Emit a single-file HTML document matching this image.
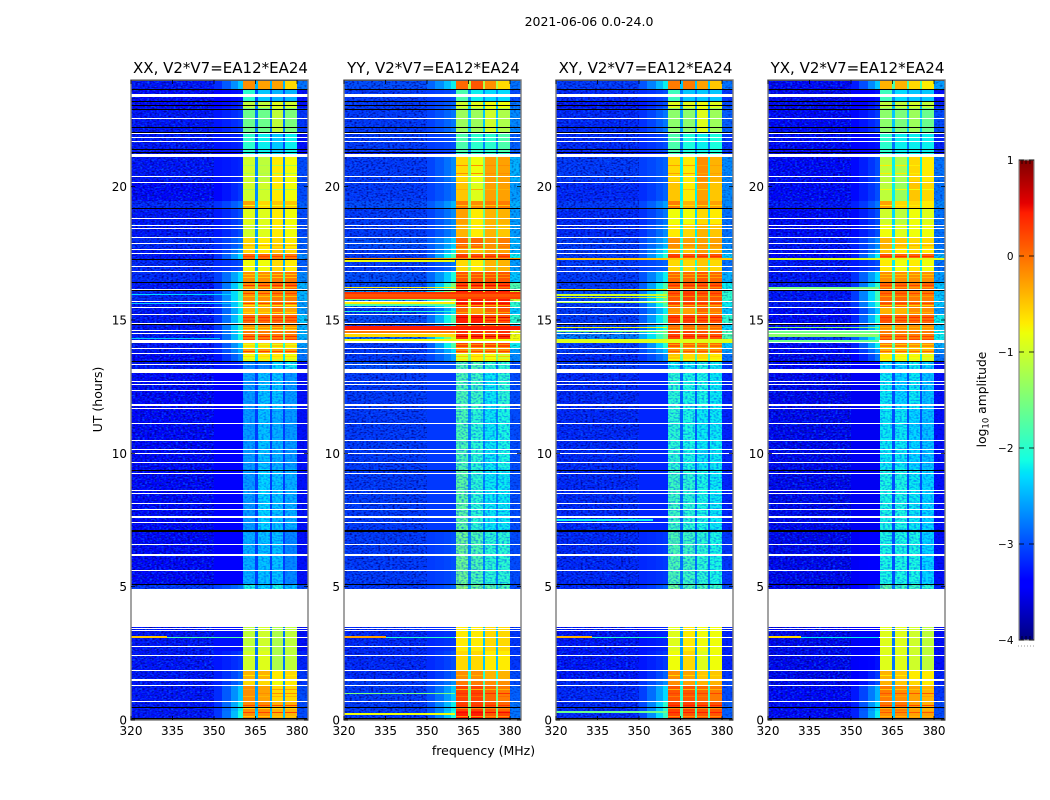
<!DOCTYPE html>
<html>
<head>
<meta charset="utf-8">
<title>2021-06-06 0.0-24.0</title>
<style>
html,body{margin:0;padding:0;background:#fff;}
svg{display:block;}
text{font-family:"DejaVu Sans","Liberation Sans",sans-serif;fill:#000;}
</style>
</head>
<body>
<svg id="chart" width="1050" height="800" viewBox="0 0 1050 800" xmlns="http://www.w3.org/2000/svg">
  <defs>
    <filter id="speckle-light" x="0" y="0" width="100%" height="100%" color-interpolation-filters="sRGB">
      <feTurbulence type="fractalNoise" baseFrequency="0.42 0.62" numOctaves="1" seed="4"/>
      <feColorMatrix type="matrix" values="0 0 0 0 0  0 0 0 0 .38  0 0 0 0 1  2.6 0 0 0 -1.2"/>
    </filter>
    <filter id="speckle-dark" x="0" y="0" width="100%" height="100%" color-interpolation-filters="sRGB">
      <feTurbulence type="fractalNoise" baseFrequency="0.42 0.62" numOctaves="1" seed="11"/>
      <feColorMatrix type="matrix" values="0 0 0 0 0  0 0 0 0 0  0 0 0 0 .5  2.6 0 0 0 -1.2"/>
    </filter>
    <filter id="speckle-band" x="0" y="0" width="100%" height="100%" color-interpolation-filters="sRGB">
      <feTurbulence type="fractalNoise" baseFrequency="0.42 0.62" numOctaves="1" seed="23"/>
      <feColorMatrix type="matrix" values="0 0 0 0 0  0 0 0 0 .3  0 0 0 0 1  1.8 0 0 0 -0.75"/>
    </filter>
    <linearGradient id="jet-gradient" x1="0" y1="1" x2="0" y2="0">
      <stop offset="0" stop-color="rgb(0,0,127)"/>
      <stop offset="0.11" stop-color="rgb(0,0,255)"/>
      <stop offset="0.125" stop-color="rgb(0,0,255)"/>
      <stop offset="0.34" stop-color="rgb(0,219,255)"/>
      <stop offset="0.35" stop-color="rgb(0,229,247)"/>
      <stop offset="0.375" stop-color="rgb(20,255,226)"/>
      <stop offset="0.64" stop-color="rgb(238,255,8)"/>
      <stop offset="0.66" stop-color="rgb(255,236,0)"/>
      <stop offset="0.89" stop-color="rgb(255,29,0)"/>
      <stop offset="0.91" stop-color="rgb(228,0,0)"/>
      <stop offset="1" stop-color="rgb(127,0,0)"/>
    </linearGradient>
  </defs>

  <text x="589" y="26" font-size="12.5" text-anchor="middle">2021-06-06 0.0-24.0</text>
  <text x="483.5" y="755" font-size="12.5" text-anchor="middle">frequency (MHz)</text>
  <text x="0" y="0" font-size="12.5" text-anchor="middle" transform="translate(102,399.5) rotate(-90)">UT (hours)</text>

  <g id="panels"></g>

  <g id="colorbar">
    <rect x="1019" y="160" width="15" height="480" fill="url(#jet-gradient)" stroke="#8a8a8a" stroke-width="1.2"/>
    <text x="0" y="0" font-size="12.3" text-anchor="middle" transform="translate(986,399.5) rotate(-90)">log<tspan font-size="8.5" dy="2.5">10</tspan><tspan dy="-2.5"> amplitude</tspan></text>
    <line x1="1018" y1="646" x2="1035" y2="646" stroke="#999" stroke-width="1" stroke-dasharray="1 2"/>
  </g>

<script>
// Frequency bin edges in MHz
const freqEdges = [320, 350, 353, 356, 358.5, 360.5, 364.8, 365.8, 370.2, 370.9, 375.1, 375.8, 380, 384];
// UT hour at the top of each row of the tables below
const rowTopHours = [24,23.65,23.19,22.95,22.05,21.29,21.1,20.2,19.45,19.19,18.6,18.1,17.7,17.5,17.27,16.8,16.41,16.09,15.7,15.48,15.21,14.88,14.6,14.19,13.92,13.75,13.47,13,11.7,9.4,7.1,5.09,4.92,3.5,2.6,1.85,1.46,1.3,0.7,0.35];
// Tick labels
const xTickMHz = [320, 335, 350, 365, 380];
const yTickHours = [0, 5, 10, 15, 20];
const colorbarTicks = [1, 0, -1, -2, -3, -4];
const panelTitles = ['XX, V2*V7=EA12*EA24', 'YY, V2*V7=EA12*EA24', 'XY, V2*V7=EA12*EA24', 'YX, V2*V7=EA12*EA24'];

// Levels: tenths of log10 amplitude. Columns: background, ramp, band1, band2, band3, band4, out-of-band, band-gap
const levelsXX = [
[-33,-24,-2,-3,-3,-6,-28,-25],[-34,-33,-20,-24,-25,-25,-33,-30],[-34,-32,-11,-11,-9,-10,-33,-28],[-33,-31,-16,-16,-11,-15,-31,-28],
[-33,-32,-20,-22,-24,-22,-33,-30],[-36,-33,-22,-22,-23,-22,-33,-30],[-33,-32,-10,-11,-7,-8,-30,-27],[-34,-31,-10,-10,-7,-8,-30,-27],
[-32,-28,-3,-6,-5,-5,-29,-24],[-33,-30,-9,-9,-7,-8,-30,-27],[-33,-30,-10,-9,-7,-8,-30,-26],[-32,-28,-6,-7,-6,-7,-29,-25],
[-33,-26,-6,-7,-5,-6,-29,-24],[-33,-23,0,0,-1,-1,-27,-22],[-32,-30,-8,-8,-6,-7,-29,-25],[-32,-23,-2,-2,-1,-1,-27,-18],
[-33,-20,-2,-1,0,0,-25,-15],[-32,-19,-2,-2,-1,-1,-25,-18],[-33,-20,-3,-3,-1,-3,-26,-18],[-33,-22,-4,-4,-1,-3,-26,-18],
[-33,-21,0,0,0,0,-24,-15],[-33,-20,-2,-2,-1,-2,-25,-17],[-33,-21,-1,-1,-1,-1,-25,-16],[-33,-24,-6,-6,-5,-6,-26,-20],
[-33,-25,-3,-3,-3,-3,-27,-20],[-34,-27,-8,-7,-7,-8,-28,-22],[-33,-32,-27,-27,-23,-22,-33,-30],[-34,-34,-26,-24,-24,-26,-33,-31],
[-34,-34,-26,-24,-25,-26,-33,-31],[-34,-34,-26,-23,-24,-25,-33,-31],[-34,-34,-25,-24,-24,-27,-33,-31],[-31,-28,-21,-23,-21,-24,-30,-28],
[-31,-28,-21,-23,-21,-24,-30,-28],[-33,-33,-11,-10,-12,-11,-33,-28],[-33,-31,-10,-9,-12,-11,-32,-28],[-33,-29,-4,-4,-7,-6,-31,-26],
[-33,-28,-6,-6,-8,-7,-31,-26],[-33,-24,-2,-3,-6,-6,-30,-26],[-33,-22,-2,-2,-4,-4,-30,-25],[-33,-21,-2,-2,-4,-4,-30,-24]
];
const levelsYY = [
[-30,-22,0,1,-2,-6,-28,-12],[-31,-30,-18,-22,-23,-23,-30,-27],[-31,-29,-10,-9,-8,-8,-28,-24],[-31,-28,-13,-13,-10,-12,-27,-24],
[-31,-30,-18,-20,-20,-18,-29,-27],[-33,-31,-20,-20,-20,-20,-30,-28],[-31,-27,-6,-8,-3,-3,-25,-15],[-31,-28,-5,-9,-3,-3,-26,-16],
[-30,-25,-1,-2,-1,-1,-25,-15],[-31,-27,-3,-7,-4,-4,-26,-16],[-31,-27,-4,-7,-4,-5,-26,-16],[-30,-24,0,0,-2,-1,-25,-14],
[-31,-22,-3,-5,-3,-3,-25,-13],[-31,-18,2,1,1,1,-22,-12],[-31,-28,-6,-7,-4,-4,-26,-15],[-30,-21,1,1,1,1,-24,-14],
[-30,-15,2,2,2,2,-18,-12],[-26,-10,4,4,3,4,-10,-10],[-28,-16,3,3,2,3,-20,-10],[-31,-23,0,-3,0,1,-24,-11],
[-30,-18,4,4,1,1,-20,-10],[-31,-20,1,1,0,0,-24,-12],[-28,-10,3,3,2,3,-8,-8],[-31,-18,2,2,2,2,-22,-12],
[-31,-23,-2,-2,-2,-2,-26,-14],[-31,-26,-9,-7,-8,-10,-27,-15],[-30,-30,-18,-18,-20,-20,-30,-28],[-31,-31,-18,-19,-22,-20,-30,-26],
[-31,-31,-18,-20,-22,-21,-30,-27],[-31,-31,-17,-20,-22,-22,-30,-27],[-31,-30,-16,-18,-20,-20,-30,-27],[-31,-29,-14,-16,-17,-18,-30,-25],
[-31,-29,-14,-16,-17,-18,-30,-25],[-32,-31,-7,-7,-6,-6,-31,-24],[-32,-30,-6,-6,-7,-7,-31,-24],[-32,-29,-2,-2,-4,-4,-30,-20],
[-31,-27,-1,-1,-2,-2,-30,-18],[-31,-24,2,2,0,-1,-29,-16],[-31,-22,2,2,1,0,-28,-15],[-31,-21,4,4,1,2,-28,-14]
];
const levelsXY = [
[-31,-22,-1,-1,-3,-5,-28,-24],[-32,-30,-19,-24,-24,-24,-31,-28],[-33,-30,-9,-9,-8,-9,-30,-26],[-32,-28,-14,-14,-9,-13,-29,-26],
[-32,-30,-18,-21,-22,-21,-31,-28],[-33,-32,-19,-20,-20,-20,-31,-28],[-31,-29,-6,-7,-2,-4,-27,-22],[-32,-29,-5,-7,-3,-5,-27,-22],
[-31,-26,-1,-4,-2,-3,-27,-20],[-32,-28,-8,-8,-6,-7,-28,-23],[-32,-27,-7,-6,-4,-5,-28,-22],[-31,-25,-2,-3,-3,-3,-27,-20],
[-31,-22,-4,-5,-3,-4,-26,-20],[-31,-20,2,1,1,1,-24,-18],[-31,-29,-6,-6,-5,-6,-28,-20],[-31,-22,0,0,1,0,-25,-16],
[-31,-18,1,1,1,1,-22,-14],[-30,-16,1,2,1,1,-20,-15],[-31,-18,1,1,1,0,-22,-15],[-31,-22,-2,-3,0,-1,-24,-15],
[-31,-19,2,2,1,1,-20,-12],[-31,-20,0,0,0,0,-23,-15],[-27,-16,2,2,1,1,-18,-12],[-31,-20,1,0,0,0,-24,-14],
[-31,-24,-2,-2,-2,-2,-26,-15],[-32,-27,-5,-6,-6,-7,-28,-18],[-31,-31,-22,-22,-21,-22,-31,-29],[-32,-32,-20,-21,-21,-22,-32,-29],
[-32,-32,-20,-21,-22,-22,-32,-29],[-32,-32,-19,-20,-21,-22,-32,-29],[-32,-31,-18,-19,-20,-21,-31,-28],[-32,-29,-16,-18,-18,-19,-30,-27],
[-32,-29,-16,-18,-18,-19,-30,-27],[-33,-32,-9,-7,-8,-8,-32,-26],[-33,-31,-8,-6,-9,-8,-32,-26],[-33,-29,-2,-3,-5,-5,-31,-24],
[-32,-27,-2,-3,-4,-4,-30,-22],[-32,-23,1,1,0,-1,-30,-20],[-32,-20,2,2,1,1,-29,-18],[-32,-19,2,1,1,1,-29,-18]
];
const levelsYX = [
[-34,-24,-4,-4,-6,-7,-26,-18],[-35,-33,-19,-23,-24,-24,-33,-27],[-35,-32,-11,-11,-10,-11,-32,-25],[-34,-31,-14,-15,-13,-16,-30,-24],
[-34,-33,-20,-22,-22,-22,-32,-28],[-36,-33,-21,-22,-22,-22,-33,-28],[-34,-30,-11,-12,-6,-7,-28,-22],[-34,-30,-11,-13,-5,-6,-28,-22],
[-33,-28,-3,-6,-6,-7,-27,-20],[-34,-30,-10,-11,-8,-9,-28,-23],[-34,-30,-8,-9,-8,-8,-28,-23],[-33,-27,-4,-5,-6,-6,-28,-21],
[-34,-26,-5,-7,-6,-7,-27,-21],[-34,-22,1,0,0,0,-25,-18],[-33,-30,-7,-8,-7,-8,-28,-22],[-33,-23,-2,-2,-2,-2,-26,-18],
[-33,-20,0,0,-1,0,-24,-16],[-33,-19,0,0,-1,-1,-24,-16],[-33,-20,0,0,-1,-1,-24,-17],[-34,-24,-4,-4,-2,-2,-26,-17],
[-34,-21,1,0,0,0,-22,-15],[-34,-22,-2,-2,-2,-2,-24,-18],[-31,-20,-1,-1,-1,-1,-22,-15],[-34,-22,-1,-1,-2,-2,-25,-17],
[-34,-26,-4,-4,-4,-4,-27,-19],[-35,-28,-7,-8,-8,-9,-28,-22],[-34,-34,-23,-23,-22,-23,-33,-30],[-35,-35,-22,-23,-22,-24,-33,-30],
[-35,-35,-22,-22,-23,-24,-33,-30],[-35,-35,-21,-21,-22,-23,-33,-30],[-35,-34,-21,-21,-21,-23,-33,-30],[-35,-31,-17,-19,-19,-20,-32,-28],
[-35,-31,-17,-19,-19,-20,-32,-28],[-35,-34,-9,-9,-10,-11,-33,-28],[-35,-33,-9,-9,-10,-11,-33,-28],[-35,-31,-4,-5,-7,-7,-32,-26],
[-35,-30,-4,-5,-6,-7,-32,-26],[-34,-25,-1,-2,-3,-4,-31,-24],[-34,-23,-1,-1,-3,-4,-30,-24],[-34,-22,-2,-2,-3,-3,-30,-24]
];

// Thin stripes across the four bands: hours, then level in each product
const stripeHours = [17.4,16.3,16.0,15.65,15.1,15.0,14.4,14.3,13.85,1.0,0.55,0.3,16.72,16.6,16.25,15.9,15.55,15.3,14.75,14.68,14.1,14.0,13.65,13.55,1.7,1.15,0.9,0.45,0.15,19.3,17.8,20.8,20.5,19.9];
const stripesXX = [2,3,2,2,3,2,3,2,2,-2,2,2,-5,-5,-4,-5,-7,-6,-5,-5,-9,-8,-6,-10,-7,-3,-4,-6,-5,-8,-4,-12,-12,-12];
const stripesYY = [3,5,6,5,6,4,6,5,2,3,3,5,-2,-2,-1,-1,-4,-3,-2,-1,-2,-3,-5,-7,-4,-4,0,-2,-2,-5,-2,-2,-2,-4];
const stripesXY = [3,3,3,3,4,3,4,3,1,2,4,4,-3,-3,-2,-2,-4,-3,-2,-2,-3,-4,-6,-8,-6,-4,-1,-2,-2,-6,-2,-3,-3,-5];
const stripesYX = [3,2,2,2,3,2,2,2,0,1,2,1,-5,-4,-3,-3,-6,-4,-4,-3,-5,-6,-7,-9,-7,-5,-3,-4,-4,-7,-4,-7,-7,-8];

// Narrowband interference: hour, duration in hours, end frequency in MHz, level
const rfiXX = [[3.1,0.06,360,-18],[3.12,0.06,333,-5],[14.3,0.06,352,-24],[15.95,0.05,358,-23],[15.62,0.05,358,-24]];
const rfiYY = [[17.31,0.06,384,-2],[17.21,0.05,360,-8],[16.22,0.05,360,-7],[16.0,0.1,384,3],[15.92,0.08,384,1],[15.84,0.07,384,2],[15.77,0.05,360,-13],[15.64,0.05,360,-7],[15.56,0.05,360,-18],[15.32,0.05,360,-20],[14.705,0.13,384,4],[14.535,0.07,360,-1],[14.41,0.1,360,-6],[14.25,0.08,384,-8],[3.1,0.06,360,-20],[3.12,0.06,335,-3],[1.0,0.05,360,-15],[0.22,0.1,360,-8]];
const rfiXY = [[17.28,0.06,384,-5],[16.15,0.05,360,-7],[15.95,0.07,360,-10],[15.85,0.05,360,-9],[15.65,0.05,360,-12],[14.72,0.06,360,-8],[14.56,0.05,360,-14],[14.2,0.14,384,-9],[3.1,0.06,360,-20],[3.12,0.06,333,-4],[7.5,0.05,355,-22],[0.3,0.05,360,-16]];
const rfiYX = [[17.28,0.06,384,-9],[16.2,0.05,360,-15],[14.72,0.06,360,-14],[14.55,0.05,360,-16],[14.42,0.08,360,-14],[14.22,0.08,360,-16],[3.1,0.06,360,-22],[3.12,0.06,332,-6]];

// Flagged times, common to all products
const whiteFlagHours = [22.55,21.99,21.86,20.39,20.16,18.81,18.56,18.44,18.10,17.86,17.64,17.51,17.0,16.81,16.14,15.70,15.48,15.21,14.88,14.60,14.49,13.92,13.75,13.35,12.70,12.59,12.36,11.70,11.13,10.49,10.15,9.99,9.66,9.25,8.59,8.51,8.13,7.90,7.41,6.59,6.21,6.16,5.61,3.44,3.36,3.08,2.76,2.41,1.85,1.30,0.70];
const whiteFlagBlocks = [[23.49,23.36],[21.72,21.66],[21.24,21.11],[14.24,14.14],[13.17,13.0],[11.85,11.78],[7.66,7.58],[4.92,3.5],[1.54,1.46]];
const blackFlagHours = [23.65,23.19,23.06,22.91,22.23,22.05,21.38,21.29,19.19,17.26,16.41,16.09,14.82,13.43,9.36,5.09,0.46];
const blackFlagBlocks = [[24,23.96],[7.14,7.05],[0.08,0]];
// Span of the quiet-band period (UT hours)
const quietSpan = [13.47, 4.92];

const panelLevels = [levelsXX, levelsYY, levelsXY, levelsYX];
const panelStripes = [stripesXX, stripesYY, stripesXY, stripesYX];
const panelRfi = [rfiXX, rfiYY, rfiXY, rfiYX];

// Axis functions and colour map
const NS = 'http://www.w3.org/2000/svg';
const PANEL_LEFT = [131, 344, 556, 768];
const PANEL_W = 177, PANEL_TOP = 80, PANEL_BOTTOM = 720;
const MHZ_PX = 2.767;
function xOf(left, mhz) { return left + (mhz - 320) * MHZ_PX; }
function yOf(hour) { return PANEL_BOTTOM - hour * (PANEL_BOTTOM - PANEL_TOP) / 24; }
function ramp(t, pts) {
  for (let i = 1; i < pts.length; i++) {
    if (t <= pts[i][0]) {
      const a = pts[i - 1], b = pts[i];
      return a[1] + (b[1] - a[1]) * (t - a[0]) / (b[0] - a[0]);
    }
  }
  return pts[pts.length - 1][1];
}
function jet(level) {
  const t = Math.max(0, Math.min(1, (level / 10 + 4) / 5));
  const r = ramp(t, [[0,0],[0.35,0],[0.66,1],[0.89,1],[1,0.5]]);
  const g = ramp(t, [[0,0],[0.125,0],[0.375,1],[0.64,1],[0.91,0],[1,0]]);
  const b = ramp(t, [[0,0.5],[0.11,1],[0.34,1],[0.65,0],[1,0]]);
  return 'rgb(' + Math.round(r * 255) + ',' + Math.round(g * 255) + ',' + Math.round(b * 255) + ')';
}
function makeRect(parent, x0, y0, x1, y1, fill) {
  const el = document.createElementNS(NS, 'rect');
  el.setAttribute('x', x0);
  el.setAttribute('y', y0);
  el.setAttribute('width', Math.max(0, x1 - x0));
  el.setAttribute('height', Math.max(0, y1 - y0));
  el.setAttribute('fill', fill);
  el.setAttribute('shape-rendering', 'crispEdges');
  parent.appendChild(el);
  return el;
}
function makeLine(parent, x1, y1, x2, y2, color, width) {
  const el = document.createElementNS(NS, 'line');
  el.setAttribute('x1', x1);
  el.setAttribute('y1', y1);
  el.setAttribute('x2', x2);
  el.setAttribute('y2', y2);
  el.setAttribute('stroke', color);
  el.setAttribute('stroke-width', width);
  parent.appendChild(el);
  return el;
}
function makeText(parent, x, y, size, anchor, content) {
  const el = document.createElementNS(NS, 'text');
  el.setAttribute('x', x);
  el.setAttribute('y', y);
  el.setAttribute('font-size', size);
  el.setAttribute('text-anchor', anchor);
  el.textContent = content;
  parent.appendChild(el);
  return el;
}

// The first five bins blend background into the ramp level; the rest read a table column
const RAMP_BLEND = [0, 0.15, 0.4, 0.7, 1];
const BAND_COLUMN = [2, 7, 3, 7, 4, 7, 5, 6];
const panelsRoot = document.getElementById('panels');

PANEL_LEFT.forEach(function (left, p) {
  const g = document.createElementNS(NS, 'g');
  
  
  panelsRoot.appendChild(g);
  const right = left + PANEL_W;
  const levels = panelLevels[p];

  // heatmap cells
  rowTopHours.forEach(function (top, r) {
    const bottom = r + 1 < rowTopHours.length ? rowTopHours[r + 1] : 0;
    const y0 = Math.round(yOf(top)), y1 = Math.round(yOf(bottom));
    for (let b = 0; b < freqEdges.length - 1; b++) {
      const v = b < RAMP_BLEND.length
        ? levels[r][0] + (levels[r][1] - levels[r][0]) * RAMP_BLEND[b]
        : levels[r][BAND_COLUMN[b - RAMP_BLEND.length]];
      const x0 = Math.round(xOf(left, freqEdges[b])), x1 = Math.round(xOf(left, freqEdges[b + 1]));
      const cell = makeRect(g, x0, y0, x1, y1, jet(v));
      
      
    }
  });

  // band stripes
  stripeHours.forEach(function (hour, i) {
    const y0 = Math.round(yOf(hour)), y1 = y0 + 1;
    [[5,6],[7,8],[9,10],[11,12]].forEach(function (pair) {
      const s = makeRect(g, Math.round(xOf(left, freqEdges[pair[0]])), y0, Math.round(xOf(left, freqEdges[pair[1]])), y1, jet(panelStripes[p][i]));
      
      
    });
  });

  // receiver-noise speckle, off-band and across quiet bands only
  const speckleEnd = Math.round(xOf(left, freqEdges[1]));
  const bandStart = Math.round(xOf(left, freqEdges[5]));
  const oobStart = Math.round(xOf(left, freqEdges[12]));
  ['speckle-light', 'speckle-dark'].forEach(function (id) {
    const n = makeRect(g, left, PANEL_TOP, speckleEnd, PANEL_BOTTOM, '#000');
    n.setAttribute('filter', 'url(#' + id + ')');
    
    
  });
  const oobNoise = makeRect(g, oobStart, PANEL_TOP, right, PANEL_BOTTOM, '#000');
  oobNoise.setAttribute('filter', 'url(#speckle-dark)');
  oobNoise.setAttribute('opacity', '0.5');
  
  
  const bandNoise = makeRect(g, bandStart, Math.round(yOf(quietSpan[0])), oobStart, Math.round(yOf(quietSpan[1])), '#000');
  bandNoise.setAttribute('filter', 'url(#speckle-band)');
  
  

  // flagged times
  whiteFlagHours.forEach(function (h) {
    const y0 = Math.round(yOf(h) - 0.5);
    const f = makeRect(g, left, y0, right, y0 + 1, '#fff');
    
    
  });
  whiteFlagBlocks.forEach(function (b) {
    const f = makeRect(g, left, Math.round(yOf(b[0])), right, Math.round(yOf(b[1])), '#fff');
    
    
  });
  blackFlagHours.forEach(function (h) {
    const y0 = Math.round(yOf(h) - 0.5);
    const f = makeRect(g, left, y0, right, y0 + 1, '#000');
    
    
  });
  blackFlagBlocks.forEach(function (b) {
    const f = makeRect(g, left, Math.round(yOf(b[0])), right, Math.round(yOf(b[1])), '#000');
    
    
  });

  // narrowband interference
  panelRfi[p].forEach(function (line) {
    const y0 = Math.round(yOf(line[0] + line[1] / 2));
    const y1 = Math.max(y0 + 1, Math.round(yOf(line[0] - line[1] / 2)));
    const f = makeRect(g, left, y0, Math.round(xOf(left, line[2])), y1, jet(line[3]));
    
    
  });

  // frame
  const frame = document.createElementNS(NS, 'rect');
  frame.setAttribute('x', left);
  frame.setAttribute('y', PANEL_TOP);
  frame.setAttribute('width', PANEL_W);
  frame.setAttribute('height', PANEL_BOTTOM - PANEL_TOP);
  frame.setAttribute('fill', 'none');
  frame.setAttribute('stroke', '#7c7c7c');
  frame.setAttribute('stroke-width', '1.4');
  
  
  g.appendChild(frame);

  // x ticks
  xTickMHz.forEach(function (mhz) {
    const x = xOf(left, mhz);
    const t1 = makeLine(g, x, PANEL_BOTTOM, x, PANEL_BOTTOM - 4, '#000', 0.8);
    
    
    const t2 = makeLine(g, x, PANEL_TOP, x, PANEL_TOP + 4, '#000', 0.8);
    
    
    const lab = makeText(g, x, 735, 12, 'middle', String(mhz));
    
    
  });

  // y ticks
  yTickHours.forEach(function (hour) {
    const y = yOf(hour);
    const t1 = makeLine(g, left, y, left + 4, y, '#000', 0.8);
    
    
    const t2 = makeLine(g, right, y, right - 4, y, '#000', 0.8);
    
    
    const lab = makeText(g, left - 4, y + 4.5, 12, 'end', String(hour));
    
    
  });

  // title
  const title = makeText(g, left + PANEL_W / 2 + 1, 73, 15, 'middle', panelTitles[p]);
  
  
});

// colour bar ticks
const cbarRoot = document.getElementById('colorbar');
function cbarY(v) { return 640 - (v + 4) * 96; }
colorbarTicks.forEach(function (v) {
  const y = cbarY(v);
  const lab = makeText(cbarRoot, 1013.5, y + 4, 10.5, 'end', v < 0 ? '\u2212' + Math.abs(v) : String(v));
  
  
  const a = makeLine(cbarRoot, 1019, y, 1024, y, '#000', 0.8);
  
  
  const b = makeLine(cbarRoot, 1029, y, 1034, y, '#000', 0.8);
  
  
});
[1022, 1026, 1030].forEach(function (x) {
  const top = makeLine(cbarRoot, x, 160, x, 164, '#000', 0.7);
  
  
  const bot = makeLine(cbarRoot, x, 636, x, 640, '#000', 0.7);
  
  
});
</script>
</svg>
</body>
</html>
